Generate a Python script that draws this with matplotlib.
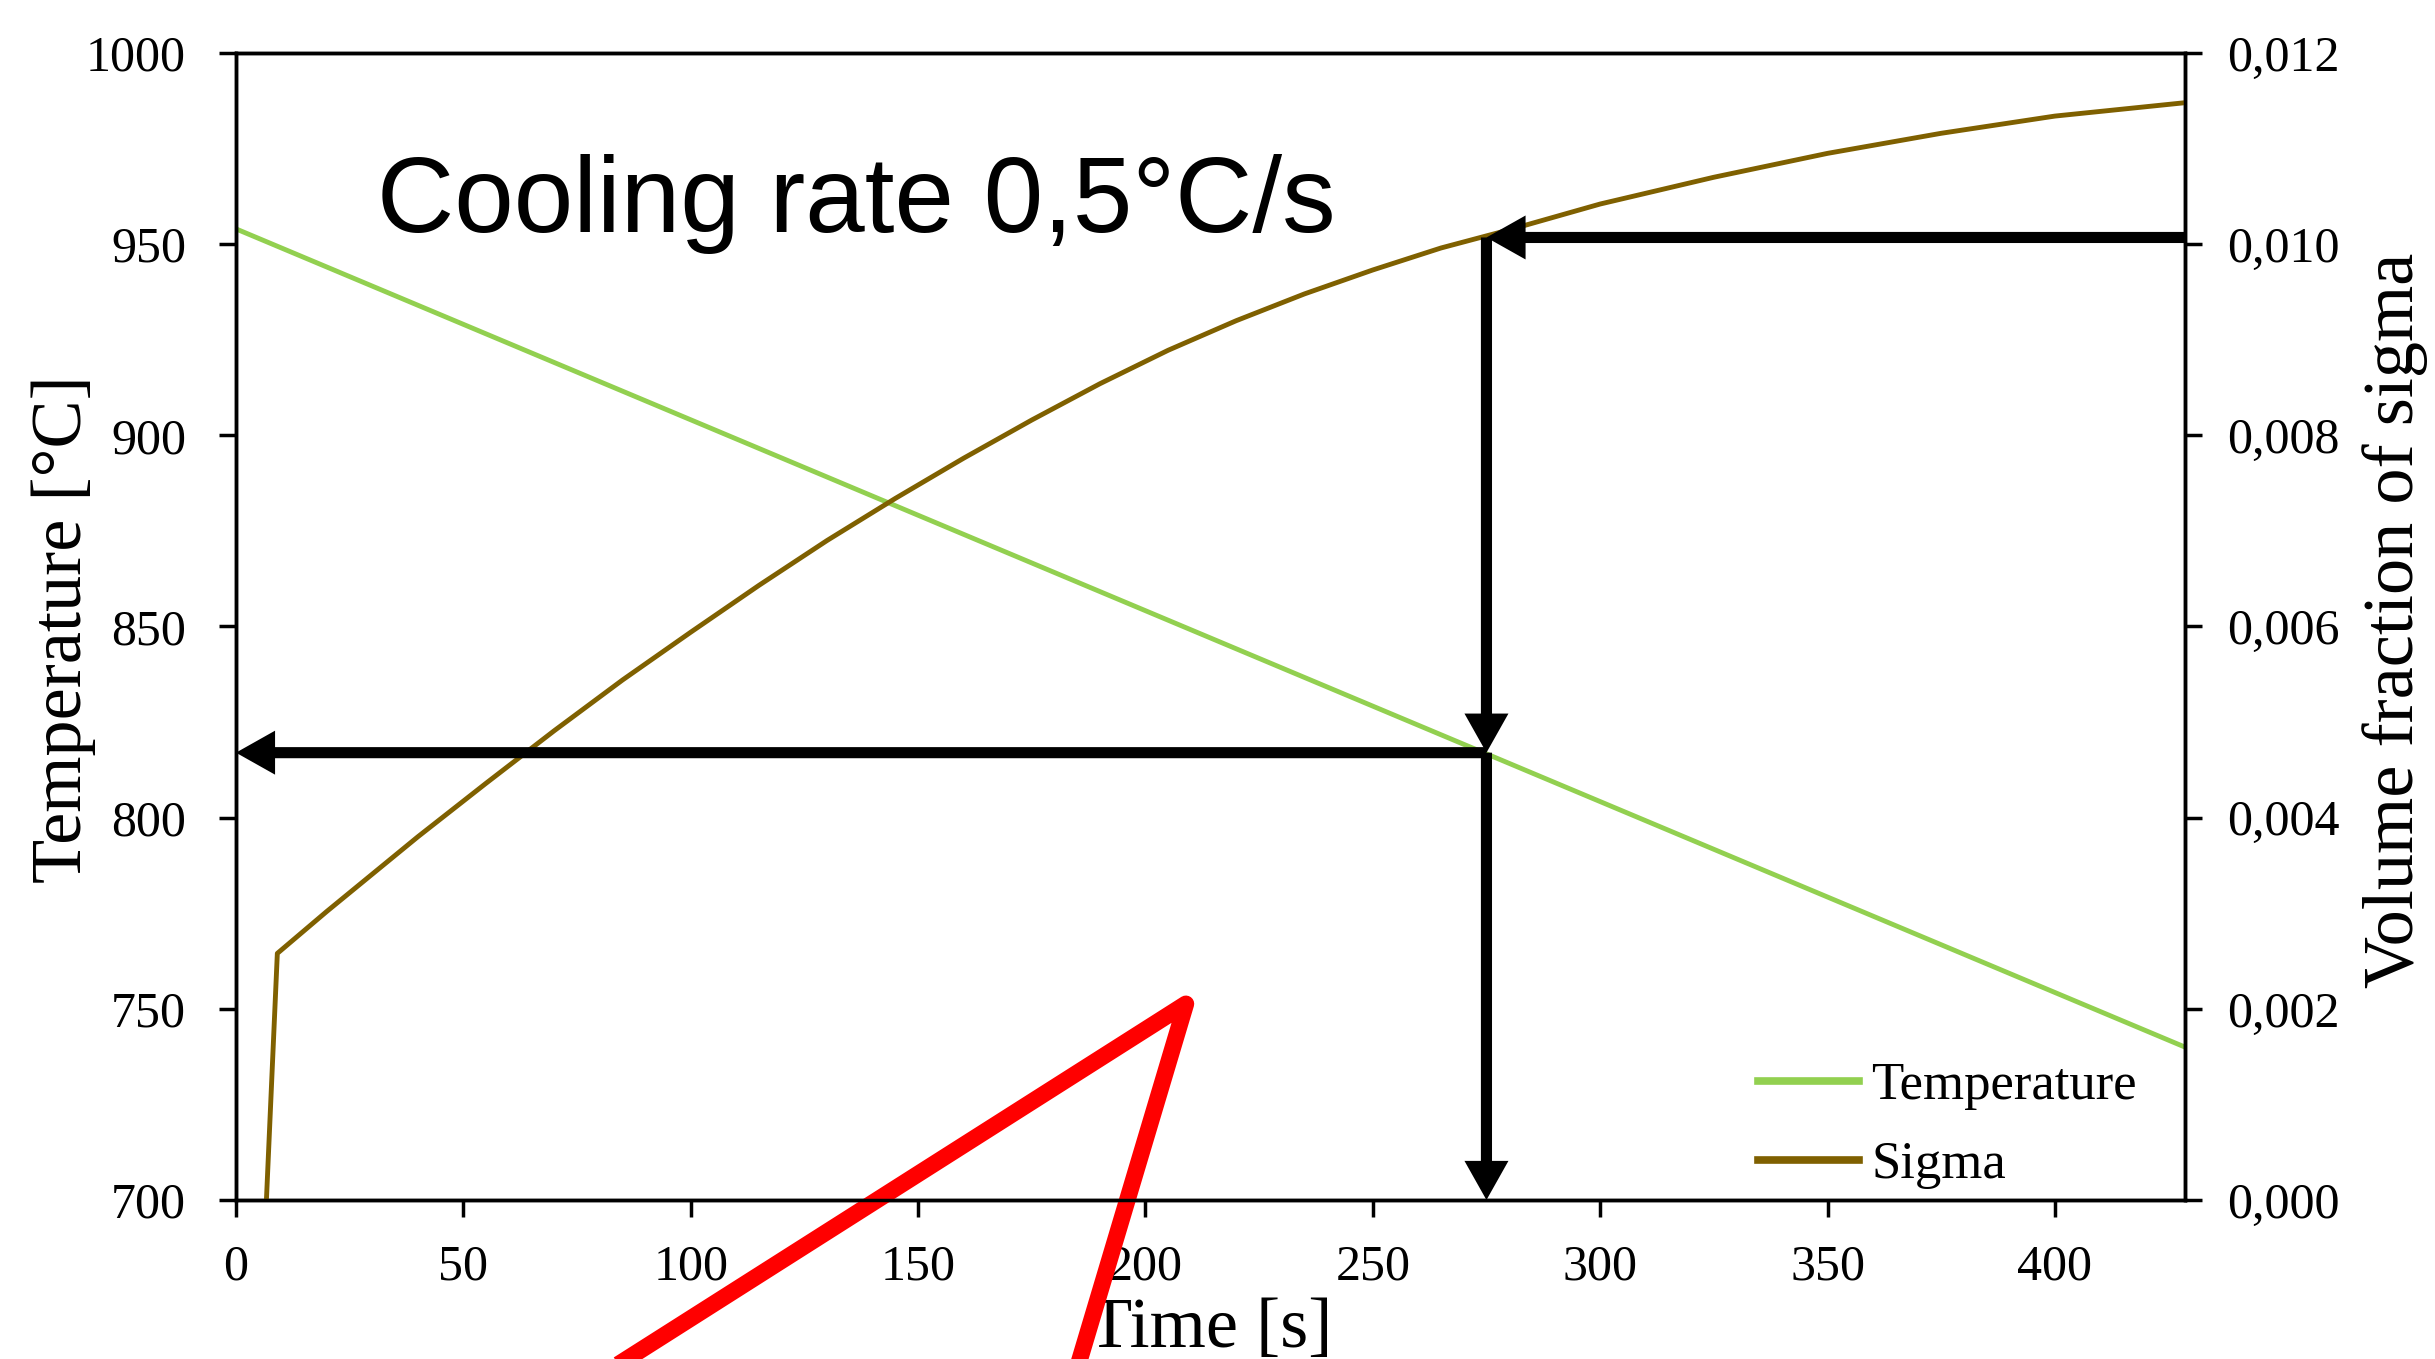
import matplotlib
matplotlib.use('Agg')
import matplotlib.pyplot as plt
from matplotlib.ticker import FuncFormatter

plt.rcParams['font.family'] = 'Liberation Serif'

# Temperature (left axis), cooling at 0,5 C/s
t_temp = [0.0, 428.6]
temp = [954.0, 740.0]

# Volume fraction of sigma (right axis)
t_sigma = [6.7, 9.1, 20, 30, 40, 55, 70, 85, 100, 115, 130, 145, 160, 175,
           190, 205, 220, 235, 250, 265, 280, 300, 325, 350, 375, 400, 428.6]
sigma = [0.0, 0.00258, 0.00302, 0.00341, 0.00380, 0.00436, 0.00491, 0.00544,
         0.00594, 0.00643, 0.00690, 0.00734, 0.00776, 0.00816, 0.00854,
         0.00889, 0.00920, 0.00948, 0.00973, 0.00996, 0.01015, 0.01042,
         0.01070, 0.01095, 0.01116, 0.01134, 0.01148]

# reading drawn with the black arrows
t_read = 275
sigma_read = 0.01007
temp_read = 817

# red mark over the bottom of the chart (temperature axis units)
red_t = [64.9, 208.9, 181.6]
red_temp = [642.5, 751.3, 642.5]

x_ticks = [0, 50, 100, 150, 200, 250, 300, 350, 400]
temp_ticks = [700, 750, 800, 850, 900, 950, 1000]
sigma_ticks = [0.0, 0.002, 0.004, 0.006, 0.008, 0.010, 0.012]

green = '#92D050'
brown = '#7F6000'

fig = plt.figure(figsize=(24.35, 13.59), dpi=100)
ax = fig.add_axes([0.0969, 0.1170, 0.8004, 0.8440])
ax2 = ax.twinx()

l1, = ax.plot(t_temp, temp, color=green, lw=3.5, label='Temperature')
l2, = ax2.plot(t_sigma, sigma, color=brown, lw=3.5, label='Sigma')

ax.set_xlim(0, t_temp[-1])
ax.set_ylim(700, 1000)
ax2.set_ylim(0, 0.012)
ax.set_xticks(x_ticks)
ax.set_yticks(temp_ticks)
ax2.set_yticks(sigma_ticks)
ax2.yaxis.set_major_formatter(FuncFormatter(lambda v, p: ('%.3f' % v).replace('.', ',')))

for a in (ax, ax2):
    for s in a.spines.values():
        s.set_linewidth(2.5)
ax.tick_params(axis='both', direction='out', length=12, width=2.5, labelsize=36)
ax.tick_params(axis='y', pad=24)
ax.tick_params(axis='x', pad=20)
ax2.tick_params(axis='y', direction='out', length=12, width=2.5, labelsize=36, pad=18.5)

ax.set_xlabel('Time [s]', fontsize=52)
ax.xaxis.set_label_coords(0.5, -0.0846)
ax.set_ylabel('Temperature [°C]', fontsize=52)
ax.yaxis.set_label_coords(-0.0716, 0.498)
ax2.set_ylabel('Volume fraction of sigma', fontsize=52)
ax2.yaxis.set_label_coords(1.0911, 0.505)

ax.text(0.0723, 0.8442, 'Cooling rate 0,5°C/s', transform=ax.transAxes,
        fontsize=77, family='Liberation Sans', va='baseline', ha='left')

# black arrows: sigma level -> curve -> temperature -> both axes
arr = dict(arrowstyle='-|>,head_length=1.6,head_width=0.9', mutation_scale=10,
           color='black', lw=8, joinstyle='miter', capstyle='butt',
           shrinkA=0, shrinkB=0)
ax2.annotate('', xy=(t_read, sigma_read), xytext=(t_temp[-1], sigma_read),
             arrowprops=arr)
ax2.annotate('', xy=(t_read, temp_read), xycoords=ax.transData,
             xytext=(t_read, sigma_read), textcoords='data', arrowprops=arr)
ax2.annotate('', xy=(0, temp_read), xycoords=ax.transData,
             xytext=(t_read, temp_read), textcoords=ax.transData, arrowprops=arr)
ax2.annotate('', xy=(t_read, 700), xycoords=ax.transData,
             xytext=(t_read, temp_read), textcoords=ax.transData, arrowprops=arr)

leg = ax2.legend(handles=[l1, l2], loc='center left', bbox_to_anchor=(0.781, 0.0648),
                 frameon=False, fontsize=38, handlelength=1.91, handletextpad=0.23,
                 labelspacing=0.58, borderpad=0, borderaxespad=0)
for ln in leg.get_lines():
    ln.set_linewidth(5.5)

ax.plot(red_t, red_temp, color='red', lw=12, solid_joinstyle='round',
        clip_on=False, zorder=10)

fig.savefig('out.png', dpi=100)
